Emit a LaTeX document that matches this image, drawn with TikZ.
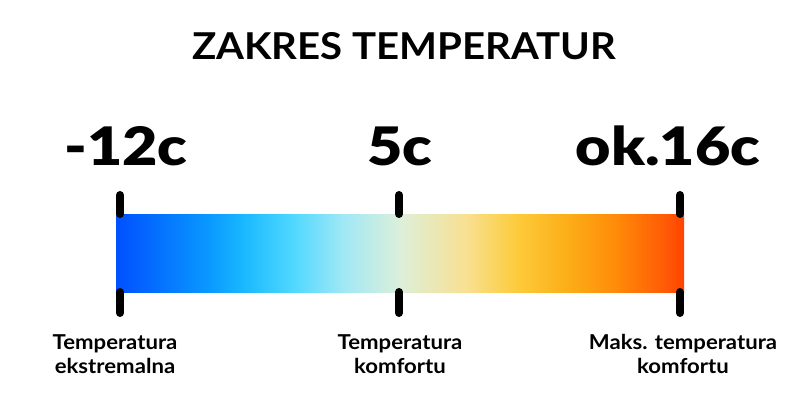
\documentclass[tikz,border=0pt]{standalone}
\usepackage{fontspec}
\setmainfont{Lato}
\newfontfamily\heavy{Lato}[UprightFont={* Black}]
\definecolor{c0}{HTML}{0050FF}
\definecolor{c1}{HTML}{0A9AFF}
\definecolor{c2}{HTML}{1AB8FF}
\definecolor{c3}{HTML}{50D8FF}
\definecolor{c4}{HTML}{A0E8F5}
\definecolor{c5}{HTML}{DDEFDA}
\definecolor{c6}{HTML}{F8E090}
\definecolor{c7}{HTML}{FDCB3A}
\definecolor{c8}{HTML}{FCAE18}
\definecolor{c9}{HTML}{FF8A08}
\definecolor{c10}{HTML}{FF5806}
\definecolor{c11}{HTML}{FF4400}
\tikzset{
  tick/.style={line width=8pt,line cap=round,black},
  title/.style={font=\bfseries\fontsize{37}{40}\selectfont,anchor=base,xscale=1.085},
  value/.style={font=\heavy\fontsize{53}{56}\selectfont,anchor=base,xscale=1.15},
  lab/.style={font=\bfseries\fontsize{20.5}{23.5}\selectfont,align=center,anchor=base,xscale=1.08},
}
\begin{document}
\begin{tikzpicture}[x=1pt,y=-1pt]
\useasboundingbox (0,0) rectangle (800,400);
\fill[white] (0,0) rectangle (800,400);
% gradient bar
\shade[left color=c0,right color=c1] (116,214) rectangle (210.5,292);
\shade[left color=c1,right color=c2] (210,214) rectangle (243.5,292);
\shade[left color=c2,right color=c3] (243,214) rectangle (293.5,292);
\shade[left color=c3,right color=c4] (293,214) rectangle (343.5,292);
\shade[left color=c4,right color=c5] (343,214) rectangle (400.5,292);
\shade[left color=c5,right color=c6] (400,214) rectangle (467.5,292);
\shade[left color=c6,right color=c7] (467,214) rectangle (517.5,292);
\shade[left color=c7,right color=c8] (517,214) rectangle (567.5,292);
\shade[left color=c8,right color=c9] (567,214) rectangle (617.5,292);
\shade[left color=c9,right color=c10] (617,214) rectangle (667.5,292);
\shade[left color=c10,right color=c11] (667,214) rectangle (684,292);
% ticks
\coordinate (t1a) at (120,195); \coordinate (t1b) at (120,313);
\coordinate (t2a) at (399,195); \coordinate (t2b) at (399,313);
\coordinate (t3a) at (680,195); \coordinate (t3b) at (680,313);
\draw[tick] (t1a) -- (120,214);
\draw[tick] (120,292) -- (t1b);
\draw[tick] (t2a) -- (399,214);
\draw[tick] (399,292) -- (t2b);
\draw[tick] (t3a) -- (680,214);
\draw[tick] (680,292) -- (t3b);
% texts
\node[title] (title) at (404,59) {ZAKRES TEMPERATUR};
\node[value] (v1) at (126,165) {-12c};
\node[value] (v2) at (400,165) {5c};
\node[value] (v3) at (668,165) {ok.16c};
\node[lab] (l1) at (115,373) {Temperatura\\ekstremalna};
\node[lab] (l2) at (400,373) {Temperatura\\komfortu};
\node[lab] (l3) at (683,373) {Maks. temperatura\\komfortu};
\end{tikzpicture}
\end{document}
